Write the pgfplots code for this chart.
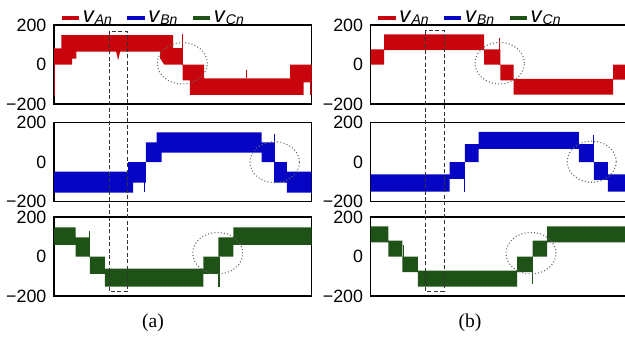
\documentclass[border=0pt]{standalone}
\usepackage{pgfplots}
\pgfplotsset{compat=1.18}
\usepackage{fontspec}
\setmainfont{Liberation Serif}
\setsansfont{Liberation Sans}
\definecolor{cA}{RGB}{200,5,12}
\definecolor{cB}{RGB}{5,5,195}
\definecolor{cC}{RGB}{30,82,22}
\newcommand{\vsub}[1]{\textit{v}\raisebox{-0.9pt}{\fontsize{7}{7}\selectfont\itshape #1}}

\pgfplotsset{
  wave/.style={
    scale only axis, width=128.5pt, height=39.5pt,
    anchor=south west,
    xmin=0, xmax=257, ymin=-200, ymax=200,
    xtick=\empty, ytick={-200,0,200}, yticklabels={−200,0,200},
    major tick length=0pt,
    axis line style={line width=0.6pt},
    yticklabel style={font=\fontsize{8.9}{9}\selectfont\sffamily, xshift=-0.3pt},
  },
  leg/.style={
    legend style={at={(0.02,1.085)}, anchor=west, draw=none, fill=none,
      legend columns=3, inner sep=0pt,
      font=\fontsize{11}{12}\selectfont\sffamily,
      nodes={inner sep=0.8pt},
      /tikz/every even column/.append style={column sep=5.8pt}},
    legend image code/.code={\draw[##1, line width=2.1pt] (0pt,0pt) -- (8.7pt,0pt);},
  },
  band/.style={draw=none, fill=#1, forget plot},
  spike/.style={draw=#1, line width=0.6pt, forget plot},
}

\begin{document}
\begin{tikzpicture}
\useasboundingbox (0,0) rectangle (312.5pt,169.5pt);

% ===================== (a) =====================
\begin{axis}[wave, leg, at={(27pt,117.5pt)}]
\addlegendimage{draw=cA}\addlegendentry{\vsub{An}}
\addlegendimage{draw=cB}\addlegendentry{\vsub{Bn}}
\addlegendimage{draw=cC}\addlegendentry{\vsub{Cn}}
\addplot[band=cA] coordinates {
 (0,82) (7.3,82) (7.3,149) (119,149) (119,83) (128.3,83) (128.3,0) (149.7,0)
 (149.7,-70) (235.7,-70) (235.7,0) (257,0)
 (257,-90) (249,-90) (249,-154) (135.7,-154) (135.7,-80) (128.3,-80) (128.3,0)
 (110,0) (106,30) (106,65) (66,65) (64,22) (62,65) (22.3,65) (22.3,30) (18,30) (18,0) (0,0)};
\addplot[spike=cA] coordinates {(0.6,82) (0.6,-160)};
\addplot[spike=cA] coordinates {(128.5,0) (128.5,152)};
\addplot[spike=cA] coordinates {(192,-70) (192,-30)};
\addplot[spike=cA] coordinates {(256.4,0) (256.4,-154)};
\end{axis}

\begin{axis}[wave, at={(27pt,68.65pt)}]
\addplot[band=cB] coordinates {
 (0,-48) (74,-48) (74,0) (91.7,0) (91.7,100) (102.3,100) (102.3,151) (207.3,151)
 (207.3,100) (219.7,100) (219.7,0) (232.3,0) (232.3,-48) (257,-48)
 (257,-154) (232.3,-154) (232.3,-104) (219.7,-104) (219.7,0) (207.3,0) (207.3,48)
 (107.3,48) (107.3,0) (91.7,0) (91.7,-104) (79,-104) (79,-154) (0,-154)};
\addplot[spike=cB] coordinates {(90.7,0) (90.7,-150)};
\addplot[spike=cB] coordinates {(219.7,0) (219.7,143)};
\end{axis}

\begin{axis}[wave, at={(27pt,21.5pt)}]
\addplot[band=cC] coordinates {
 (0,148) (21.7,148) (21.7,97) (35.7,97) (35.7,0) (50.7,0) (50.7,-61) (149,-61)
 (149,0) (164,0) (164,97) (179,97) (179,148) (257,148)
 (257,59) (179,59) (179,0) (164,0) (164,-88) (149,-88) (149,-152) (50.7,-152)
 (50.7,-88) (35.7,-88) (35.7,0) (21.7,0) (21.7,59) (0,59)};
\addplot[spike=cC] coordinates {(35.5,0) (35.5,131)};
\addplot[spike=cC] coordinates {(164.7,0) (164.7,-152)};
\end{axis}

% ===================== (b) =====================
\begin{axis}[wave, leg, at={(185.35pt,117.5pt)}]
\addlegendimage{draw=cA}\addlegendentry{\vsub{An}}
\addlegendimage{draw=cB}\addlegendentry{\vsub{Bn}}
\addlegendimage{draw=cC}\addlegendentry{\vsub{Cn}}
\addplot[band=cA] coordinates {
 (0,76) (13.3,76) (13.3,152) (113.3,152) (113.3,76) (129.3,76) (129.3,0) (142.7,0)
 (142.7,-73) (242,-73) (242,0) (257,0)
 (257,-76) (242,-76) (242,-153) (142.7,-153) (142.7,-81) (129.3,-81) (129.3,0)
 (113.3,0) (113.3,73) (13.3,73) (13.3,0) (0,0)};
\addplot[spike=cA] coordinates {(128.3,0) (128.3,136)};
\end{axis}

\begin{axis}[wave, at={(185.35pt,68.65pt)}]
\addplot[band=cB] coordinates {
 (0,-61) (78.7,-61) (78.7,0) (94,0) (94,92) (107.7,92) (107.7,153) (207.7,153)
 (207.7,92) (222.7,92) (222.7,0) (236.7,0) (236.7,-61) (257,-61)
 (257,-149) (236.7,-149) (236.7,-90) (222.7,-90) (222.7,0) (207.7,0) (207.7,67)
 (107.7,67) (107.7,0) (94,0) (94,-85) (78.7,-85) (78.7,-149) (0,-149)};
\addplot[spike=cB] coordinates {(93.7,0) (93.7,-149)};
\addplot[spike=cB] coordinates {(222.7,0) (222.7,139)};
\end{axis}

\begin{axis}[wave, at={(185.35pt,21.5pt)}]
\addplot[band=cC] coordinates {
 (0,153) (17.7,153) (17.7,81) (31.7,81) (31.7,0) (47,0) (47,-71) (146,-71)
 (146,0) (161.7,0) (161.7,81) (176,81) (176,153) (257,153)
 (257,71) (176,71) (176,0) (161.7,0) (161.7,-79) (146,-79) (146,-152) (47,-152)
 (47,-79) (31.7,-79) (31.7,0) (17.7,0) (17.7,71) (0,71)};
\addplot[spike=cC] coordinates {(32.6,0) (32.6,59)};
\addplot[spike=cC] coordinates {(161.6,0) (161.6,-140)};
\end{axis}

% ===================== annotations =====================
\begin{scope}[x=0.5pt, y=0.5pt]
\draw[black!80, line width=0.5pt, dash pattern=on 2pt off 1.2pt] (109,308) rectangle (127,47.3);
\draw[black!80, line width=0.5pt, dash pattern=on 2pt off 1.2pt] (425.3,308.3) rectangle (444,48);
\begin{scope}[gray!80!black, line width=0.55pt, dash pattern=on 0.5pt off 1.1pt]
\draw (182.3,275.7) ellipse [x radius=25, y radius=20.7];
\draw (274.7,176.8) ellipse [x radius=24.7, y radius=20.5];
\draw (217.7,85.8) ellipse [x radius=25, y radius=20.8];
\draw (499.7,275.8) ellipse [x radius=24.7, y radius=20.8];
\draw (591.7,177.3) ellipse [x radius=24.5, y radius=20.6];
\draw (531,85.8) ellipse [x radius=25, y radius=20.8];
\end{scope}
\node[font=\fontsize{9.8}{11}\selectfont] at (153,16) {(a)};
\node[font=\fontsize{9.8}{11}\selectfont] at (470,16) {(b)};
\end{scope}
\end{tikzpicture}
\end{document}
